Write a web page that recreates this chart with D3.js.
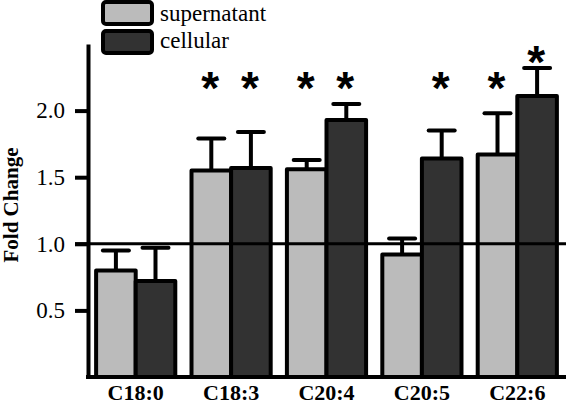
<!DOCTYPE html>
<html>
<head>
<meta charset="utf-8">
<script src="https://cdn.jsdelivr.net/npm/d3@7"></script>
<style>
  html, body { margin: 0; padding: 0; background: #fff; }
  svg { display: block; }
</style>
</head>
<body>
<svg id="chart" width="566" height="404"></svg>
<script>
// ---- data ----
const categories = ["C18:0", "C18:3", "C20:4", "C20:5", "C22:6"];
const seriesNames = ["supernatant", "cellular"];
const supernatant = [0.80, 1.55, 1.56, 0.92, 1.67];
const supernatantErr = [0.15, 0.24, 0.07, 0.12, 0.31];
const cellular = [0.72, 1.57, 1.93, 1.64, 2.11];
const cellularErr = [0.25, 0.27, 0.12, 0.21, 0.21];
const supernatantSig = [false, true, true, false, true];
const cellularSig = [false, true, true, true, true];
const yTicks = [0.5, 1.0, 1.5, 2.0];
const yTickLabels = ["0.5", "1.0", "1.5", "2.0"];
const referenceValue = 1.0;
const yTitle = "Fold Change";

// ---- layout ----
const svg = d3.select("#chart");
const colors = ["#bbbbbb", "#323232"];
const serif = "'Liberation Serif', 'Times New Roman', Times, serif";

const x0 = d3.scaleBand().domain(categories).range([88, 565])
  .paddingInner(0.17).paddingOuter(0.085);
const x1 = d3.scaleBand().domain(seriesNames).range([0, x0.bandwidth()]);
const y = d3.scaleLinear().domain([0, 2.5]).range([377, 44]);

const rows = categories.map((c, i) => ({
  cat: c,
  items: [
    { s: seriesNames[0], v: supernatant[i], e: supernatantErr[i], sig: supernatantSig[i], k: 0 },
    { s: seriesNames[1], v: cellular[i], e: cellularErr[i], sig: cellularSig[i], k: 1 }
  ]
}));

const groups = svg.append("g").selectAll("g").data(rows).join("g")
  .attr("transform", d => `translate(${x0(d.cat)},0)`);

// error bars (behind bars)
groups.selectAll("line.err").data(d => d.items).join("line")
  .attr("class", "err")
  .attr("x1", d => x1(d.s) + x1.bandwidth() / 2)
  .attr("x2", d => x1(d.s) + x1.bandwidth() / 2)
  .attr("y1", d => y(d.v))
  .attr("y2", d => y(d.v + d.e))
  .attr("stroke", "#000").attr("stroke-width", 4);

groups.selectAll("line.cap").data(d => d.items).join("line")
  .attr("class", "cap")
  .attr("x1", d => x1(d.s) + x1.bandwidth() / 2 - 13)
  .attr("x2", d => x1(d.s) + x1.bandwidth() / 2 + 13)
  .attr("y1", d => y(d.v + d.e))
  .attr("y2", d => y(d.v + d.e))
  .attr("stroke", "#000").attr("stroke-width", 4).attr("stroke-linecap", "round");

groups.selectAll("rect.bar").data(d => d.items).join("rect")
  .attr("class", "bar")
  .attr("x", d => x1(d.s))
  .attr("width", x1.bandwidth())
  .attr("y", d => y(d.v))
  .attr("height", d => y(0) - y(d.v))
  .attr("fill", d => colors[d.k])
  .attr("stroke", "#000").attr("stroke-width", 4).attr("stroke-linejoin", "round");

// significance asterisks
const astSize = 46;
groups.selectAll("text.sig").data(d => d.items.filter(it => it.sig)).join("text")
  .attr("class", "sig")
  .attr("x", d => x1(d.s) + x1.bandwidth() / 2 - 1)
  .attr("y", d => Math.min(y(2.22), y(d.v + d.e) - 13) + astSize * 0.5)
  .attr("text-anchor", "middle")
  .attr("font-family", "'Liberation Sans', Arial, sans-serif")
  .attr("font-weight", "bold")
  .attr("font-size", astSize)
  .text("*");

// reference line at 1.0
svg.append("line")
  .attr("x1", 75).attr("x2", 566)
  .attr("y1", y(referenceValue)).attr("y2", y(referenceValue))
  .attr("stroke", "#000").attr("stroke-width", 3);

// y axis
const yAxis = svg.append("g").attr("transform", "translate(88,0)")
  .call(d3.axisLeft(y).tickValues(yTicks).tickFormat((d, i) => yTickLabels[i])
    .tickSize(13).tickSizeOuter(0).tickPadding(10));
yAxis.attr("font-family", serif).attr("font-size", 23);
yAxis.select(".domain").attr("stroke", "#000").attr("stroke-width", 4);
yAxis.selectAll(".tick line").attr("stroke", "#000").attr("stroke-width", 4);
yAxis.selectAll(".tick text").attr("fill", "#000");

// x axis
const xAxis = svg.append("g").attr("transform", `translate(0,${y(0)})`)
  .call(d3.axisBottom(x0).tickSize(0).tickPadding(7));
xAxis.attr("font-family", serif).attr("font-size", 22).attr("font-weight", "bold");
xAxis.select(".domain").attr("d", "M86,0H566").attr("stroke", "#000").attr("stroke-width", 4);
xAxis.selectAll(".tick text").attr("fill", "#000");

// y title
svg.append("text")
  .attr("transform", "translate(18,205) rotate(-90)")
  .attr("text-anchor", "middle")
  .attr("font-family", serif).attr("font-weight", "bold").attr("font-size", 21)
  .text(yTitle);

// legend
const legend = svg.append("g").selectAll("g").data(seriesNames).join("g")
  .attr("transform", (d, i) => `translate(0,${i * 29})`);
legend.append("rect")
  .attr("x", 103).attr("y", 2).attr("width", 49).attr("height", 22).attr("rx", 3)
  .attr("fill", (d, i) => colors[i]).attr("stroke", "#000").attr("stroke-width", 4);
legend.append("text")
  .attr("x", 160).attr("y", (d, i) => 21 - i * 2)
  .attr("font-family", serif).attr("font-size", 23)
  .text(d => d);
</script>
</body>
</html>
